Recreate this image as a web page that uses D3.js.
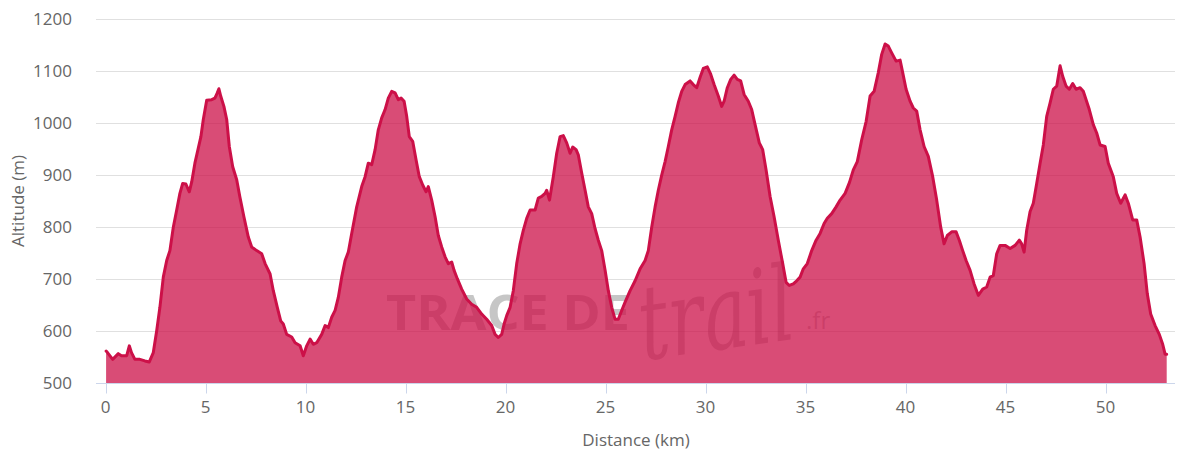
<!DOCTYPE html>
<meta charset="utf-8">
<script src="https://d3js.org/d3.v7.min.js"></script>
<html>
<style>
body { margin: 0; background: #fff; }
text { font-family: "Open Sans", sans-serif; }
</style>
<body>
<svg id="profile" width="1183" height="452"></svg>
<script>

// distance (km) and altitude (m)
var distance = [0.03, 0.1, 0.36, 0.64, 0.8, 1.06, 1.19, 1.3, 1.47, 1.72, 1.97, 2.19, 2.39, 2.56, 2.72, 2.89,
  3.06, 3.22, 3.39, 3.56, 3.72, 3.86, 4.02, 4.19, 4.31, 4.47, 4.64, 4.77, 4.89, 5.06, 5.31, 5.47, 5.59, 5.67,
  5.76, 5.92, 6.06, 6.19, 6.36, 6.56, 6.72, 6.92, 7.14, 7.31, 7.56, 7.81, 7.98, 8.23, 8.39, 8.59, 8.76, 8.89,
  9.06, 9.31, 9.48, 9.73, 9.89, 10.06, 10.23, 10.39, 10.56, 10.81, 10.98, 11.14, 11.31, 11.48, 11.64, 11.81,
  11.98, 12.14, 12.31, 12.56, 12.81, 12.98, 13.14, 13.31, 13.48, 13.64, 13.81, 13.98, 14.14, 14.31, 14.48,
  14.64, 14.78, 14.93, 15.06, 15.19, 15.36, 15.53, 15.69, 15.86, 16.03, 16.14, 16.31, 16.48, 16.64, 16.81,
  16.98, 17.14, 17.31, 17.43, 17.59, 17.81, 18.06, 18.31, 18.56, 18.81, 19.06, 19.31, 19.48, 19.64, 19.81,
  19.93, 20.06, 20.23, 20.39, 20.56, 20.73, 20.89, 21.06, 21.23, 21.48, 21.64, 21.81, 21.98, 22.06, 22.2,
  22.39, 22.56, 22.73, 22.89, 23.06, 23.23, 23.36, 23.53, 23.64, 23.81, 23.98, 24.14, 24.31, 24.48, 24.64,
  24.81, 24.98, 25.14, 25.31, 25.48, 25.64, 25.81, 25.98, 26.23, 26.48, 26.73, 26.98, 27.14, 27.31, 27.48,
  27.64, 27.81, 27.98, 28.14, 28.31, 28.48, 28.64, 28.81, 28.98, 29.23, 29.39, 29.56, 29.73, 29.89, 30.09,
  30.26, 30.43, 30.64, 30.81, 30.93, 31.09, 31.26, 31.43, 31.59, 31.76, 31.93, 32.14, 32.31, 32.48, 32.69,
  32.86, 33.03, 33.23, 33.43, 33.64, 33.86, 34.03, 34.19, 34.39, 34.56, 34.73, 34.89, 35.09, 35.31, 35.53,
  35.73, 35.93, 36.09, 36.31, 36.53, 36.73, 36.98, 37.2, 37.39, 37.59, 37.81, 38.03, 38.23, 38.43, 38.64,
  38.81, 38.98, 39.14, 39.31, 39.53, 39.73, 39.86, 40.03, 40.23, 40.39, 40.56, 40.73, 40.93, 41.14, 41.36,
  41.56, 41.76, 41.93, 42.09, 42.31, 42.53, 42.69, 42.86, 43.03, 43.23, 43.43, 43.64, 43.86, 44.06, 44.23,
  44.39, 44.56, 44.73, 44.98, 45.23, 45.48, 45.69, 45.81, 45.93, 46.06, 46.23, 46.39, 46.56, 46.73, 46.89,
  47.06, 47.23, 47.39, 47.56, 47.73, 47.86, 48.03, 48.19, 48.36, 48.53, 48.73, 48.89, 49.03, 49.19, 49.39,
  49.56, 49.73, 49.98, 50.14, 50.39, 50.56, 50.76, 50.98, 51.14, 51.36, 51.56, 51.73, 51.93, 52.09, 52.26,
  52.48, 52.69, 52.86, 52.98, 53.06];
var altitude = [562, 559, 546, 557, 553, 553, 572, 559, 546, 546, 543, 541, 559, 601, 646, 704,
  736, 755, 800, 833, 865, 884, 883, 868, 887, 923, 952, 974, 1007, 1044, 1045, 1048, 1058, 1066,
  1052, 1032, 1007, 955, 916, 891, 858, 820, 781, 762, 755, 749, 730, 710, 678, 646, 620, 614,
  594, 589, 578, 572, 553, 572, 585, 575, 578, 594, 611, 607, 627, 640, 665, 704,
  736, 752, 788, 839, 878, 897, 923, 920, 949, 987, 1010, 1026, 1048, 1061, 1058,
  1045, 1048, 1042, 1013, 974, 965, 929, 897, 881, 868, 878, 852, 820, 784, 762,
  743, 730, 733, 717, 701, 681, 662, 652, 646, 633, 623, 611, 594, 588, 594,
  614, 630, 646, 678, 730, 768, 794, 817, 833, 833, 856, 859, 865, 871, 852,
  897, 942, 974, 976, 962, 942, 954, 949, 939, 904, 871, 839, 826, 797, 775,
  755, 717, 678, 646, 623, 623, 640, 656, 678, 697, 720, 736, 755, 800, 839,
  871, 900, 926, 955, 987, 1013, 1039, 1061, 1074, 1081, 1074, 1068, 1088, 1105, 1108,
  1094, 1074, 1052, 1032, 1042, 1068, 1084, 1092, 1084, 1081, 1055, 1042, 1026, 997, 962,
  949, 910, 859, 820, 775, 730, 694, 688, 691, 697, 704, 720, 730, 755, 775,
  788, 807, 817, 826, 839, 852, 865, 886, 910, 926, 968, 1003, 1052, 1061, 1097,
  1132, 1152, 1148, 1135, 1119, 1121, 1097, 1065, 1042, 1029, 1023, 987, 955, 936, 897,
  852, 800, 768, 784, 791, 791, 775, 755, 736, 717, 691, 669, 681, 685, 704,
  707, 749, 765, 765, 759, 765, 775, 768, 752, 794, 830, 846, 884, 923, 958,
  1013, 1039, 1065, 1071, 1110, 1090, 1071, 1065, 1076, 1065, 1068, 1061, 1045, 1026, 997,
  981, 958, 955, 923, 897, 865, 846, 862, 846, 814, 814, 781, 730, 672, 633,
  611, 594, 575, 556, 556];

var yTicks = [500, 600, 700, 800, 900, 1000, 1100, 1200];
var xTicks = [0, 5, 10, 15, 20, 25, 30, 35, 40, 45, 50];

var svg = d3.select("#profile");

var x = d3.scaleLinear().domain([0, 53]).range([105.5, 1165.5]);
var y = d3.scaleLinear().domain([500, 1200]).range([383.3, 19]);

var points = distance.map(function(d, i) { return [d, altitude[i]]; });

// grid
svg.append("g")
  .selectAll("line")
  .data(yTicks.slice(1))
  .enter().append("line")
    .attr("x1", 96).attr("x2", 1175)
    .attr("y1", function(d) { return Math.round(y(d)) + 0.5; })
    .attr("y2", function(d) { return Math.round(y(d)) + 0.5; })
    .attr("stroke", "#e0e0e0")
    .attr("stroke-width", 1);

// y labels
svg.append("g")
  .selectAll("text")
  .data(yTicks)
  .enter().append("text")
    .attr("x", 72)
    .attr("y", function(d) { return y(d); })
    .attr("dy", "0.35em")
    .attr("text-anchor", "end")
    .attr("fill", "#666")
    .style("font-size", "17px")
    .text(function(d) { return d; });

// watermark (under the area)
var wm = svg.append("g").attr("fill", "#808080").attr("fill-opacity", 0.45);
wm.append("text")
  .attr("x", 386).attr("y", 330)
  .attr("textLength", 244).attr("lengthAdjust", "spacingAndGlyphs")
  .style("font-size", "48px").style("font-weight", "bold")
  .text("TRACE DE");
wm.append("text")
  .attr("x", 640).attr("y", 352)
  .attr("textLength", 156).attr("lengthAdjust", "spacingAndGlyphs")
  .style("font-family", "'DejaVu Serif', serif")
  .style("font-size", "104px").style("font-style", "italic")
  .attr("transform", "rotate(-8 700 330)")
  .text("trail");
wm.append("text")
  .attr("x", 806).attr("y", 329)
  .style("font-size", "24px")
  .text(".fr");

// area
var area = d3.area()
  .x(function(d) { return x(d[0]); })
  .y0(y(500))
  .y1(function(d) { return y(d[1]); });

var line = d3.line()
  .x(function(d) { return x(d[0]); })
  .y(function(d) { return y(d[1]); });

svg.append("path")
  .datum(points)
  .attr("d", area)
  .attr("fill", "#cc1048")
  .attr("fill-opacity", 0.75);

svg.append("path")
  .datum(points)
  .attr("d", line)
  .attr("fill", "none")
  .attr("stroke", "#cc1048")
  .attr("stroke-width", 3)
  .attr("stroke-linejoin", "round")
  .attr("stroke-linecap", "round");

// x axis
var xAxis = svg.append("g").attr("transform", "translate(0,383.5)");
xAxis.append("line")
  .attr("x1", 96).attr("x2", 1175)
  .attr("stroke", "#ccd6eb");
xAxis.selectAll(".tick")
  .data(xTicks)
  .enter().append("line")
    .attr("x1", function(d) { return Math.round(x(d)) + 0.5; })
    .attr("x2", function(d) { return Math.round(x(d)) + 0.5; })
    .attr("y1", 0).attr("y2", 10)
    .attr("stroke", "#ccd6eb");
xAxis.selectAll("text")
  .data(xTicks)
  .enter().append("text")
    .attr("x", function(d) { return x(d); })
    .attr("y", 29)
    .attr("text-anchor", "middle")
    .attr("fill", "#666")
    .style("font-size", "17px")
    .text(function(d) { return d; });

// axis titles
svg.append("text")
  .attr("x", 636).attr("y", 446)
  .attr("text-anchor", "middle")
  .attr("fill", "#666")
  .style("font-size", "17px")
  .text("Distance (km)");

svg.append("text")
  .attr("transform", "translate(24,201) rotate(-90)")
  .attr("text-anchor", "middle")
  .attr("fill", "#666")
  .style("font-size", "17px")
  .text("Altitude (m)");

</script>
</body>
</html>
